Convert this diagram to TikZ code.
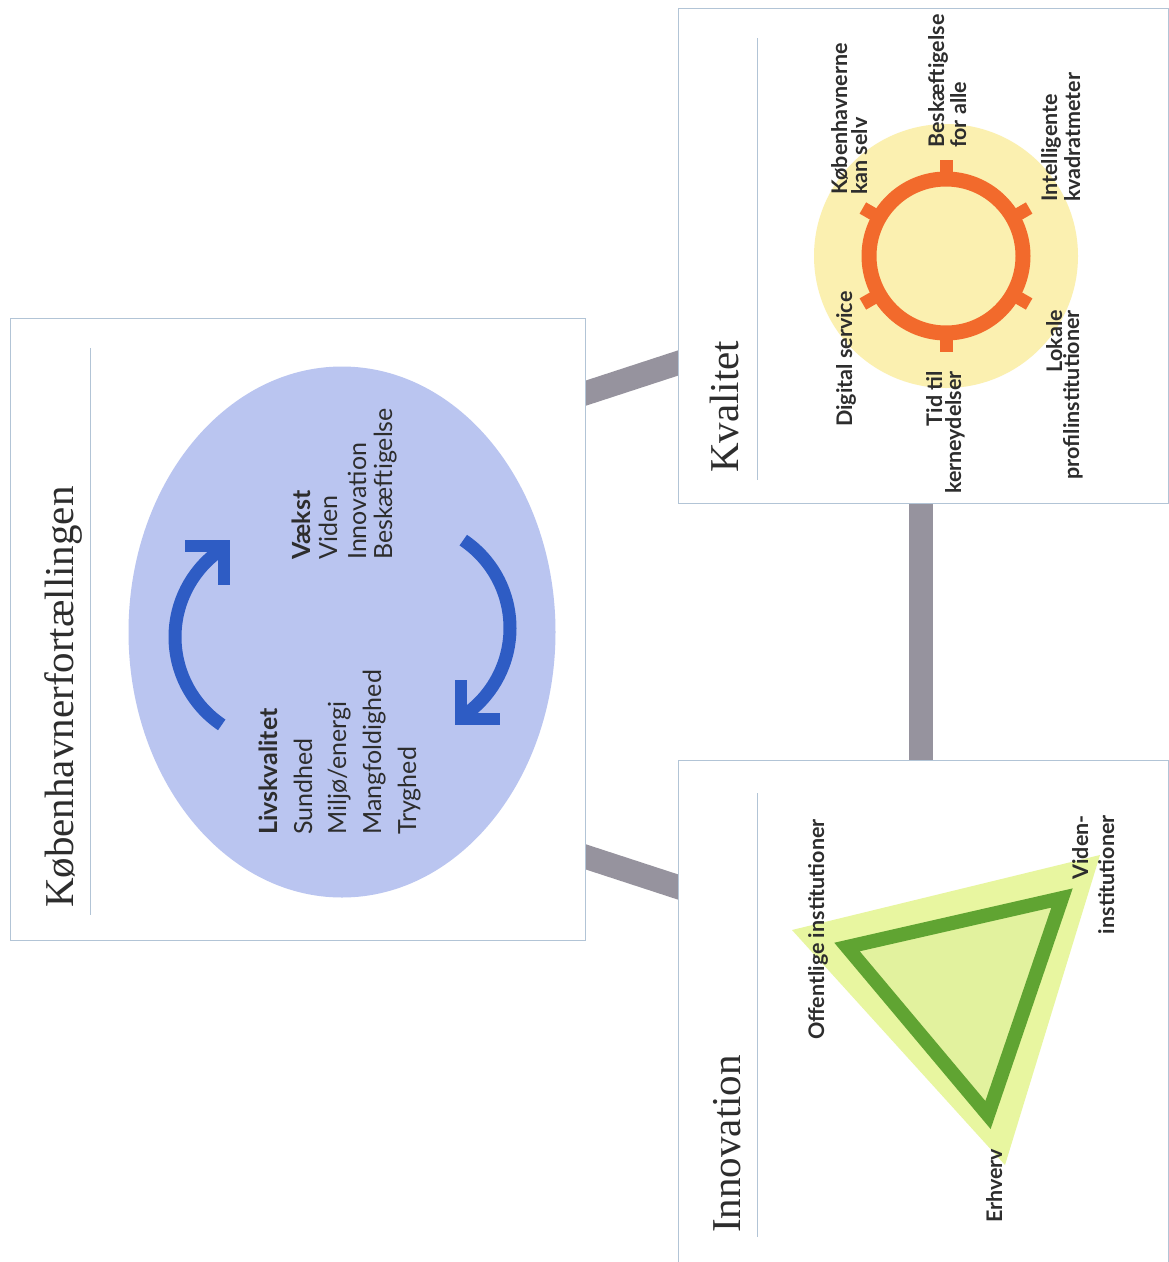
\documentclass[tikz,border=0pt]{standalone}
\usepackage{fontspec}
\newfontfamily\lato{Lato}
\newfontfamily\ttlserif{Liberation Serif}
\usetikzlibrary{shapes.geometric,backgrounds,calc}
\definecolor{framec}{RGB}{178,196,214}
\definecolor{linkc}{RGB}{150,147,158}
\definecolor{ellc}{RGB}{186,197,240}
\definecolor{arrc}{RGB}{46,92,196}
\definecolor{sunc}{RGB}{251,240,176}
\definecolor{ringc}{RGB}{242,106,44}
\definecolor{trioc}{RGB}{232,246,160}
\definecolor{triic}{RGB}{226,242,158}
\definecolor{trigr}{RGB}{96,164,50}
\definecolor{txtc}{RGB}{45,45,45}
\begin{document}
\begin{tikzpicture}[x=1pt,y=1pt,
  boxframe/.style={draw=framec, line width=1.2pt, fill=white, inner sep=0pt, anchor=north west},
  sepline/.style={draw=framec, line width=1pt},
  link/.style={draw=linkc, line width=24pt},
  ttl/.style={rotate=90, anchor=base west, inner sep=0pt, text=txtc, font=\ttlserif\fontsize{41}{41}\selectfont},
  etxt/.style={rotate=90, anchor=base west, inner sep=0pt, text=txtc, font=\lato\fontsize{25}{25}\selectfont},
  slbl/.style={rotate=90, inner sep=0pt, text=txtc, font=\lato\bfseries\fontsize{21.5}{21.5}\selectfont},
  tlbl/.style={rotate=90, inner sep=0pt, text=txtc, font=\lato\bfseries\fontsize{21.5}{21.5}\selectfont},
  arrline/.style={draw=arrc, line width=13pt},
  chev/.style={draw=arrc, line width=12pt, line join=miter},
]
\useasboundingbox (0,0) rectangle (1169,-1262);
\begin{pgfonlayer}{background}
\fill[white] (0,0) rectangle (1169,-1262);
\end{pgfonlayer}

% boxes
\node[boxframe, minimum width=575pt, minimum height=622pt] (main) at (10,-318) {};
\node[boxframe, minimum width=490pt, minimum height=495pt] (kval) at (678,-8) {};
\node[boxframe, minimum width=490pt, minimum height=520pt] (innov) at (678,-760) {};

% connectors (behind boxes)
\coordinate (a1) at (main.east |- 0,-393);
\coordinate (b1) at (kval.west |- 0,-363);
\coordinate (a2) at (main.east |- 0,-857);
\coordinate (b2) at (innov.west |- 0,-887);
\coordinate (a3) at (kval.south -| 921,0);
\coordinate (b3) at (innov.north -| 921,0);
\begin{pgfonlayer}{background}
\draw[link] ($(a1)!-12pt!(b1)$) -- ($(b1)!-12pt!(a1)$);
\draw[link] ($(a2)!-12pt!(b2)$) -- ($(b2)!-12pt!(a2)$);
\draw[link] (a3) -- (b3);
\end{pgfonlayer}

% titles and separator lines
\node[ttl] (t1) at (73,-908) {Københavnerfortællingen};
\node[ttl] (t2) at (738,-473) {Kvalitet};
\node[ttl] (t3) at (740,-1233) {Innovation};
\draw[sepline] (90,-348) -- (90,-915);
\draw[sepline] (757,-38) -- (757,-480);
\draw[sepline] (757,-793) -- (757,-1237);

% ellipse with cycle arrows
\node[ellipse, fill=ellc, minimum width=427pt, minimum height=531pt, inner sep=0pt] (ell) at (342,-632) {};
\draw[arrline] ([shift={(236:106)}]281,-637) arc[start angle=236, end angle=124, radius=106];
\draw[chev] (185,-546) -- (224,-546) -- (224,-585);
\draw[arrline] ([shift={(56:106)}]404,-628) arc[start angle=56, end angle=-56, radius=106];
\draw[chev] (461,-680) -- (461,-719) -- (500,-719);

\node[etxt, font=\lato\bfseries\fontsize{25}{25}\selectfont] (l1) at (277,-835) {Livskvalitet};
\node[etxt] (l2) at (312,-835) {Sundhed};
\node[etxt] (l3) at (346,-835) {Miljø/energi};
\node[etxt] (l4) at (381,-835) {Mangfoldighed};
\node[etxt] (l5) at (416,-835) {Tryghed};
\node[etxt, font=\lato\bfseries\fontsize{25}{25}\selectfont] (v1) at (310,-560) {Vækst};
\node[etxt] (v2) at (337,-560) {Viden};
\node[etxt] (v3) at (366,-560) {Innovation};
\node[etxt] (v4) at (392,-560) {Beskæftigelse};

% sun
\node[circle, fill=sunc, minimum size=264pt, inner sep=0pt] (sun) at (946,-256) {};
\draw[ringc, line width=15pt] (sun.center) circle (77);
\foreach \a in {30,90,150,210,270,330}
  \draw[ringc, line width=13pt] ($(sun.center)+(\a:76)$) -- ($(sun.center)+(\a:96)$);

\node[slbl, anchor=base west] (s1) at (847,-195) {Københavnerne};
\node[slbl, anchor=base west] (s2) at (867,-195) {kan selv};
\node[slbl, anchor=base west] (s3) at (852,-427) {Digital service};
\node[slbl, anchor=base west] (s4) at (944,-148) {Beskæftigelse};
\node[slbl, anchor=base west] (s5) at (966,-148) {for alle};
\node[slbl, anchor=base west] (s6) at (1057,-202) {Intelligente};
\node[slbl, anchor=base west] (s7) at (1080,-202) {kvadratmeter};
\node[slbl, anchor=base east] (s8) at (942,-371) {Tid til};
\node[slbl, anchor=base east] (s9) at (961,-371) {kerneydelser};
\node[slbl, anchor=base east] (s10) at (1062,-310) {Lokale};
\node[slbl, anchor=base east] (s11) at (1079,-310) {profilinstitutioner};

% triangle
\fill[trioc] (792,-930) -- (1100,-855) -- (1005,-1165) -- cycle;
\draw[trigr, fill=triic, line width=14pt, line join=miter] (847,-947) -- (1062,-898) -- (988,-1115) -- cycle;

\node[tlbl, anchor=base west] (g1) at (824,-1040) {Offentlige institutioner};
\node[tlbl, anchor=base west] (g2) at (1002,-1223) {Erhverv};
\node[tlbl, anchor=base east] (g3) at (1088,-815) {Viden-};
\node[tlbl, anchor=base east] (g4) at (1114,-815) {institutioner};
\end{tikzpicture}
\end{document}
